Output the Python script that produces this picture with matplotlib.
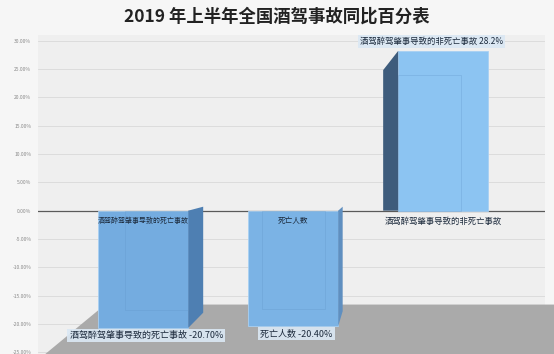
import numpy as np
import matplotlib
matplotlib.use('Agg')
import matplotlib.pyplot as plt
from matplotlib.patches import Polygon

plt.rcParams['font.family'] = ['Noto Sans CJK SC', 'DejaVu Sans']

# data
title = '2019 年上半年全国酒驾事故同比百分表'
categories = ['酒驾醉驾肇事导致的死亡事故', '死亡人数', '酒驾醉驾肇事导致的非死亡事故']
values = [-20.70, -20.40, 28.2]
value_texts = ['-20.70%', '-20.40%', '28.2%']
yticks = [-25, -20, -15, -10, -5, 0, 5, 10, 15, 20, 25, 30]

fig = plt.figure(figsize=(5.54, 3.54), dpi=100, facecolor='#f6f6f6')
ax = fig.add_axes([0.069, 0.0, 0.915, 0.901])
ax.set_facecolor('#efefef')
ax.set_xlim(-0.7, 2.68)
ax.set_ylim(-25.3, 31)
for s in ax.spines.values():
    s.set_visible(False)

# floor of the 3d chart
floor = Polygon([(0.014, 0), (0.132, 0.155), (1.03, 0.155), (1.03, 0)],
                closed=True, transform=ax.transAxes, fc='#aaaaaa', ec='none',
                zorder=1, clip_on=False)
ax.add_patch(floor)

ax.set_axisbelow(True)
ax.yaxis.grid(True, color='#d9d9d9', lw=0.6)
ax.set_yticks(yticks)
ax.set_yticklabels(['%.2f%%' % t for t in yticks], fontsize=3.6, color='#8a8a8a')
ax.tick_params(length=0, pad=5)
ax.set_xticks([])

x = np.arange(len(values))
w = 0.6
d = 0.1
front = ['#74ace0', '#7bb3e5', '#8cc4f2']
ax.bar(x, values, w, color=front, edgecolor='#a8d0f3', lw=0.6, zorder=3)

# faint back edges seen through the bars
shift = np.array([w * 0.15, 0.0, -w * 0.15])
ax.bar(x + shift, np.array(values) * 0.85, w * 0.7, fill=False, edgecolor='#5f95c8',
       lw=0.4, alpha=0.5, zorder=3.5)

# side faces
for xi, v in zip(x, values):
    if v < 0:
        x0 = xi + w / 2
        x1 = x0 + (d if xi == 0 else 0.03)
        col = '#4e7fb2' if xi == 0 else '#5f8fc0'
        pts = [(x0, 0), (x1, 0.7), (x1, v * 0.87), (x0, v)]
    else:
        x0 = xi - w / 2
        x1 = x0 - d
        col = '#3e5c7c'
        pts = [(x0, 0), (x1, 0), (x1, v * 0.88), (x0, v)]
    ax.add_patch(Polygon(pts, closed=True, fc=col, ec='none', zorder=3))

ax.axhline(0, color='#5a5a5a', lw=0.9, zorder=2.5)

# category names
sizes = [5, 5.5, 6]
for xi, name, fs in zip(x, categories, sizes):
    ax.text(xi, -1.1, name, fontsize=fs, ha='center', va='top', color='#1c2a3c', zorder=5)

# value labels
box = dict(boxstyle='square,pad=0.25', fc='#dbe8f4', ec='none', alpha=0.92)
for xi, name, v, t in zip(x, categories, values, value_texts):
    if v < 0:
        ax.text(xi + 0.02, v - 0.5, name + ' ' + t, fontsize=6.5, ha='center', va='top',
                color='#1c2a3c', bbox=box, zorder=6)
    else:
        ax.text(xi - 0.08, v + 0.8, name + ' ' + t, fontsize=6, ha='center', va='bottom',
                color='#1c2a3c', bbox=box, zorder=6)

fig.text(0.5, 0.952, title, ha='center', va='center', fontsize=12.5,
         weight='bold', color='#222222')

fig.savefig('out.png', dpi=100, facecolor=fig.get_facecolor())
